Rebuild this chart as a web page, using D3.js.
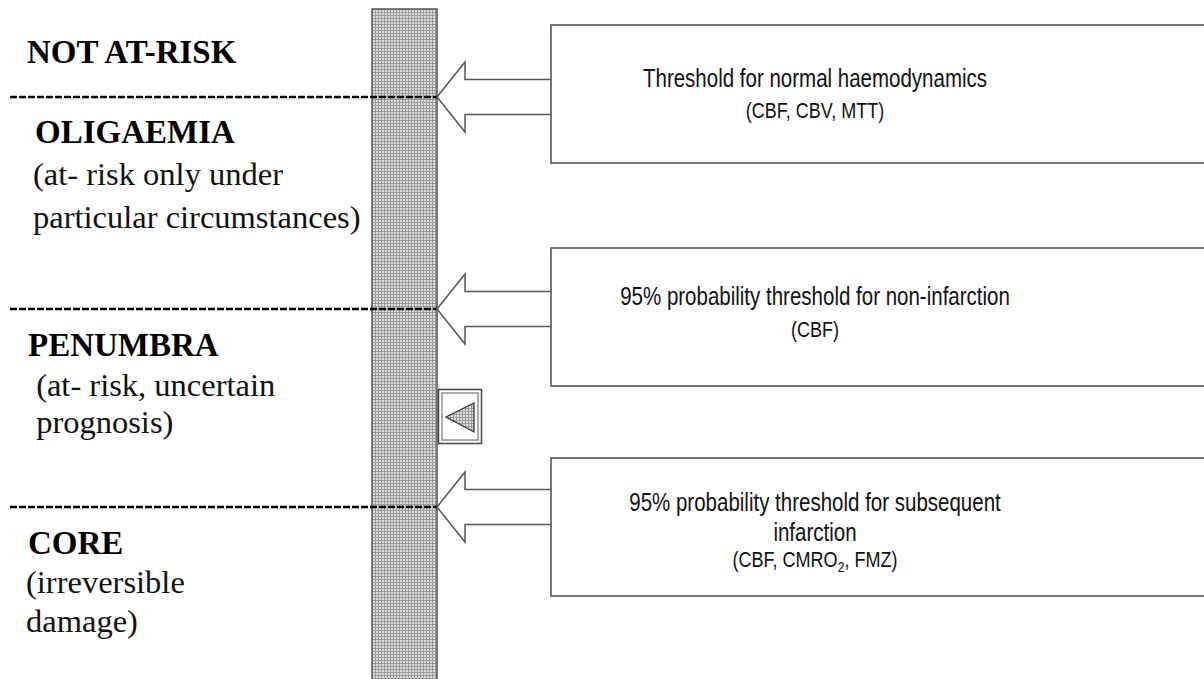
<!DOCTYPE html>
<html lang="en">
<head>
<meta charset="utf-8">
<title>Perfusion thresholds</title>
<script src="https://d3js.org/d3.v7.min.js"></script>
<style>
  body { margin: 0; background: #fff; }
</style>
</head>
<body>
<div id="chart"></div>
<script>
// zones, top to bottom
var zoneTitles = ["NOT AT-RISK", "OLIGAEMIA", "PENUMBRA", "CORE"];
var zoneNotes = [
  [],
  ["(at- risk only under", "particular circumstances)"],
  [" (at- risk, uncertain", " prognosis)"],
  ["(irreversible", "damage)"]
];

// thresholds between zones
var thresholdTitles = [
  ["Threshold for normal haemodynamics"],
  ["95% probability threshold for non-infarction"],
  ["95% probability threshold for subsequent", "infarction"]
];
var thresholdParams = [
  [["(CBF, CBV, MTT)", false]],
  [["(CBF)", false]],
  [["(CBF, CMRO", false], ["2", true], [", FMZ)", false]]
];

var W = 1204, H = 679;
var svg = d3.select("#chart").append("svg")
  .attr("width", W).attr("height", H);

// stipple pattern for the bar
var defs = svg.append("defs");
var pat = defs.append("pattern")
  .attr("id", "stip").attr("patternUnits", "userSpaceOnUse")
  .attr("width", 3).attr("height", 3);
pat.append("rect").attr("width", 3).attr("height", 3).attr("fill", "#9a9a9a");
pat.append("rect").attr("x", 1).attr("y", 1).attr("width", 2).attr("height", 2).attr("fill", "#dedede");

// vertical layout: threshold index -> y
var yT = d3.scaleLinear().domain([0, 1, 2]).range([97, 309, 507]);
var yBoxTop = d3.scaleLinear().domain([0, 1, 2]).range([25, 248, 458]);
var boxH = 138;

var barX0 = 372, barX1 = 437, boxX = 551;

// bar
svg.append("rect")
  .attr("x", barX0).attr("y", 9)
  .attr("width", barX1 - barX0).attr("height", H)
  .attr("fill", "url(#stip)")
  .attr("stroke", "#555").attr("stroke-width", 1.5);

// dashed lines
svg.append("g").selectAll("line")
  .data(thresholdTitles)
  .enter().append("line")
    .attr("x1", 10).attr("x2", barX1)
    .attr("y1", function(d, i) { return yT(i); })
    .attr("y2", function(d, i) { return yT(i); })
    .attr("stroke", "#000").attr("stroke-width", 2.6)
    .attr("stroke-dasharray", "7,2");

// arrows
var headX = 465, headH = 35, shaftH = 17.5;
svg.append("g").selectAll("path")
  .data(thresholdTitles)
  .enter().append("path")
    .attr("d", function(d, i) {
      var y = yT(i);
      return "M" + (boxX + 0.5) + "," + (y - shaftH) +
        "L" + headX + "," + (y - shaftH) +
        "L" + headX + "," + (y - headH) +
        "L" + barX1 + "," + y +
        "L" + headX + "," + (y + headH) +
        "L" + headX + "," + (y + shaftH) +
        "L" + (boxX + 0.5) + "," + (y + shaftH);
    })
    .attr("fill", "#fff")
    .attr("stroke", "#555").attr("stroke-width", 1.5);

// boxes
svg.append("g").selectAll("rect")
  .data(thresholdTitles)
  .enter().append("rect")
    .attr("x", boxX)
    .attr("y", function(d, i) { return yBoxTop(i); })
    .attr("width", W)
    .attr("height", boxH)
    .attr("fill", "#fff")
    .attr("stroke", "#555").attr("stroke-width", 1.6);

// box texts (condensed sans)
var textX = 815;
var titleY = [[87], [305], [511, 541]];
var paramY = [118, 337, 567];
thresholdTitles.forEach(function(lines, i) {
  lines.forEach(function(t, j) {
    svg.append("g")
      .attr("transform", "translate(" + textX + "," + titleY[i][j] + ") scale(0.82,1)")
      .append("text")
        .attr("text-anchor", "middle")
        .style("font-family", "'Liberation Sans', Arial, sans-serif")
        .style("font-size", "25px")
        .attr("fill", "#111")
        .text(t);
  });
  var pt = svg.append("g")
    .attr("transform", "translate(" + textX + "," + paramY[i] + ") scale(0.82,1)")
    .append("text")
      .attr("text-anchor", "middle")
      .style("font-family", "'Liberation Sans', Arial, sans-serif")
      .style("font-size", "22px")
      .attr("fill", "#111");
  thresholdParams[i].forEach(function(p) {
    var ts = pt.append("tspan").text(p[0]);
    if (p[1]) ts.attr("dy", 5).style("font-size", "15px");
    else if (pt.selectAll("tspan").size() > 1) ts.attr("dy", -5);
  });
});

// zone labels (serif)
var titleYs = [63, 143, 356, 554];
var titleXs = [27, 35, 28, 28];
var noteYs = [[], [185, 228], [396, 433], [593, 632]];
var serif = "'Liberation Serif', 'Times New Roman', serif";
zoneTitles.forEach(function(t, i) {
  svg.append("text")
    .attr("x", titleXs[i]).attr("y", titleYs[i])
    .style("font-family", serif)
    .style("font-size", "33px")
    .style("font-weight", "bold")
    .attr("fill", "#000")
    .text(t);
  zoneNotes[i].forEach(function(n, j) {
    svg.append("text")
      .attr("x", i === 2 ? 28 : titleXs[i] - 2).attr("y", noteYs[i][j])
      .style("font-family", serif)
      .style("font-size", "32.5px")
      .style("white-space", "pre")
      .attr("xml:space", "preserve")
      .attr("fill", "#111")
      .text(n);
  });
});

// small marker box with triangle
var mk = svg.append("g");
mk.append("rect").attr("x", 438.5).attr("y", 389.5).attr("width", 43).attr("height", 54)
  .attr("fill", "#fff").attr("stroke", "#444").attr("stroke-width", 1.5);
mk.append("rect").attr("x", 442).attr("y", 393).attr("width", 36).attr("height", 47)
  .attr("fill", "none").attr("stroke", "#777").attr("stroke-width", 1.2);
mk.append("path").attr("d", "M446,417L474,403L474,432Z")
  .attr("fill", "url(#stip)").attr("stroke", "#333").attr("stroke-width", 1.3);
</script>
</body>
</html>
